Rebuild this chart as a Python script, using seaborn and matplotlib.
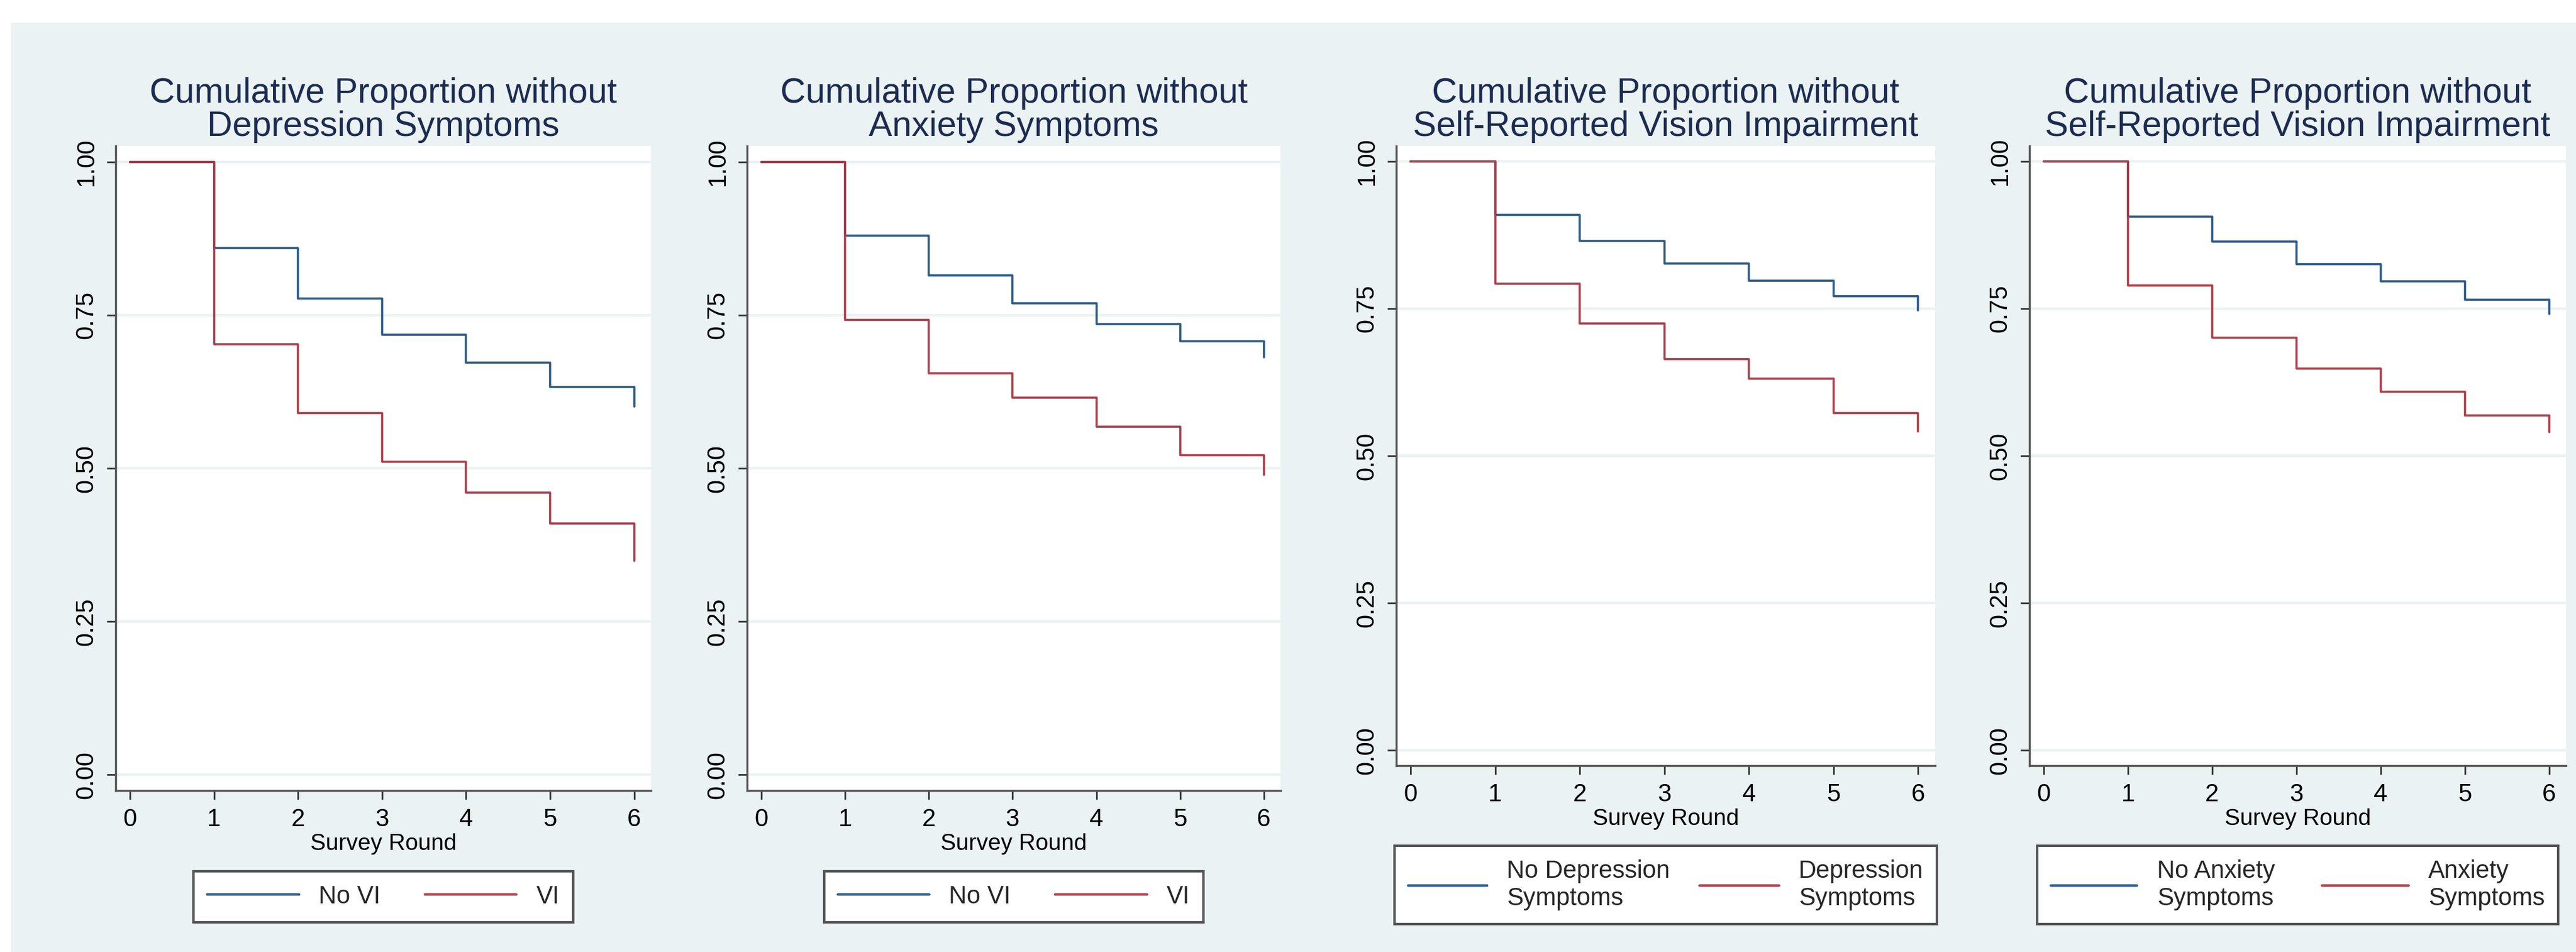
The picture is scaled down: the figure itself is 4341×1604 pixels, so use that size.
import matplotlib.pyplot as plt
import matplotlib.patches as mpatches
import numpy as np
import pandas as pd
import seaborn as sns

# survey rounds and cumulative proportions
rounds = [0, 1, 2, 3, 4, 5, 6]

dep_no_vi = [1.00, 0.859, 0.777, 0.718, 0.672, 0.633, 0.601]
dep_vi = [1.00, 0.702, 0.590, 0.511, 0.460, 0.410, 0.349]

anx_no_vi = [1.00, 0.880, 0.815, 0.769, 0.735, 0.707, 0.681]
anx_vi = [1.00, 0.742, 0.655, 0.615, 0.568, 0.521, 0.489]

vi_no_dep = [1.00, 0.909, 0.865, 0.826, 0.797, 0.771, 0.747]
vi_dep = [1.00, 0.792, 0.725, 0.664, 0.631, 0.573, 0.541]

vi_no_anx = [1.00, 0.906, 0.864, 0.825, 0.796, 0.765, 0.741]
vi_anx = [1.00, 0.789, 0.701, 0.648, 0.609, 0.569, 0.540]

titles = ['Cumulative Proportion without\nDepression Symptoms',
          'Cumulative Proportion without\nAnxiety Symptoms',
          'Cumulative Proportion without\nSelf-Reported Vision Impairment',
          'Cumulative Proportion without\nSelf-Reported Vision Impairment']
legend_labels = [['No VI', 'VI'],
                 ['No VI', 'VI'],
                 ['No Depression\nSymptoms', 'Depression\nSymptoms'],
                 ['No Anxiety\nSymptoms', 'Anxiety\nSymptoms']]
series = [(dep_no_vi, dep_vi), (anx_no_vi, anx_vi),
          (vi_no_dep, vi_dep), (vi_no_anx, vi_anx)]
y_ticks = [0.00, 0.25, 0.50, 0.75, 1.00]

BG = '#EAF2F3'
BLUE = '#2C5B85'
RED = '#A8404B'
TITLE_COL = '#1C2B50'

sns.set_theme(style='white')
plt.rcParams['font.family'] = ['Liberation Sans Narrow', 'Liberation Sans', 'DejaVu Sans']

W, H = 4341, 1604
fig = plt.figure(figsize=(W / 100, H / 100), dpi=100)
fig.patch.set_facecolor('white')
fig.patches.append(mpatches.Rectangle((18 / W, 0), 1, 1 - 38 / H, transform=fig.transFigure,
                                      facecolor=BG, edgecolor='none', zorder=-10))

# axes boxes in pixels: left, right, top, bottom
boxes = [(195, 1097, 246, 1332), (1259, 2158, 246, 1332),
         (2353, 3261, 246, 1290), (3420, 4324, 246, 1290)]
# legend spacing per panel: handlelength, columnspacing
leg_style = [(3.7, 1.8), (3.7, 1.8), (3.2, 1.2), (3.5, 1.9)]

for i, (l, r, t, b) in enumerate(boxes):
    ax = fig.add_axes([l / W, 1 - b / H, (r - l) / W, (b - t) / H])
    ax.set_facecolor('white')

    df = pd.DataFrame({
        'round': rounds * 2,
        'prop': list(series[i][0]) + list(series[i][1]),
        'group': [legend_labels[i][0]] * len(rounds) + [legend_labels[i][1]] * len(rounds),
    })
    sns.lineplot(data=df, x='round', y='prop', hue='group', ax=ax,
                 palette=[BLUE, RED], drawstyle='steps-post', errorbar=None,
                 linewidth=2.6, legend=False)

    ax.set_xlim(-0.17, 6.2)
    ax.set_ylim(-0.026, 1.026)
    ax.set_xticks(rounds)
    ax.set_yticks(y_ticks)
    ax.set_yticklabels([f'{v:.2f}' for v in y_ticks], rotation=90, va='center')
    ax.tick_params(axis='both', direction='out', length=11, width=2, color='#333333',
                   labelsize=30, labelcolor='black', pad=10, left=True, bottom=True)
    ax.grid(axis='y', color=BG, linewidth=3)
    ax.grid(axis='x', visible=False)
    for s in ['top', 'right']:
        ax.spines[s].set_visible(False)
    for s in ['left', 'bottom']:
        ax.spines[s].set_color('#555555')
        ax.spines[s].set_linewidth(2.5)

    ax.set_xlabel('Survey Round', fontsize=28, color='black', labelpad=2)
    ax.set_ylabel('')
    ax.set_title(titles[i], fontsize=42.5, color=TITLE_COL, linespacing=1.02, pad=12)

    handles = ax.get_lines()[:2]
    leg_y = -0.125 if i < 2 else -0.129
    hl, cs = leg_style[i]
    leg = ax.legend(handles, legend_labels[i], loc='upper center', bbox_to_anchor=(0.5, leg_y),
                    ncol=2, fontsize=30, frameon=True, fancybox=False, edgecolor='#555555',
                    facecolor='white', framealpha=1, handlelength=hl, handletextpad=0.8,
                    columnspacing=cs, borderpad=0.55, borderaxespad=0)
    leg.get_frame().set_linewidth(3)
    for line in leg.get_lines():
        line.set_linewidth(3)
    for txt in leg.get_texts():
        txt.set_multialignment('left')

fig.savefig('out.png', dpi=100, facecolor=fig.get_facecolor())
